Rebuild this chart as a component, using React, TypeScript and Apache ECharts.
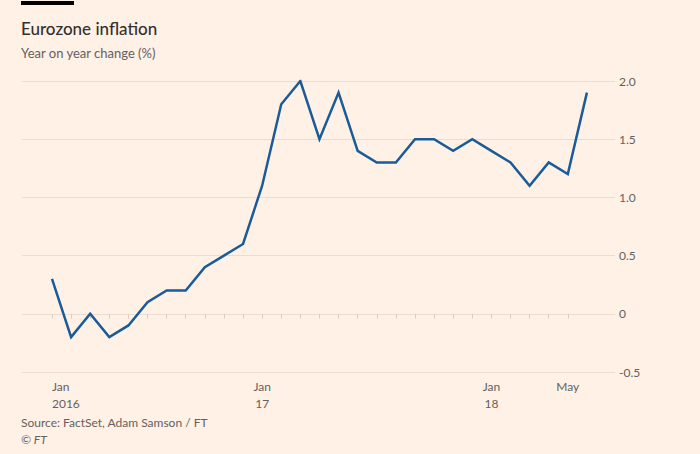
import React, { useEffect, useRef } from 'react';
import * as echarts from 'echarts';

// Eurozone HICP, year on year change (%), monthly
const months = [
  'Jan 2016', 'Feb 2016', 'Mar 2016', 'Apr 2016', 'May 2016', 'Jun 2016', 'Jul 2016', 'Aug 2016',
  'Sep 2016', 'Oct 2016', 'Nov 2016', 'Dec 2016', 'Jan 2017', 'Feb 2017', 'Mar 2017', 'Apr 2017',
  'May 2017', 'Jun 2017', 'Jul 2017', 'Aug 2017', 'Sep 2017', 'Oct 2017', 'Nov 2017', 'Dec 2017',
  'Jan 2018', 'Feb 2018', 'Mar 2018', 'Apr 2018', 'May 2018',
];
const inflation = [
  0.3, -0.2, 0.0, -0.2, -0.1, 0.1, 0.2, 0.2, 0.4, 0.5, 0.6, 1.1,
  1.8, 2.0, 1.5, 1.9, 1.4, 1.3, 1.3, 1.5, 1.5, 1.4, 1.5, 1.4,
  1.3, 1.1, 1.3, 1.2, 1.9,
];
const xTickPositions = [
  0, 1, 2, 3, 4, 5, 6, 7, 8, 9, 10, 11, 12, 13, 14, 15, 16, 17, 18, 19, 20, 21, 22, 23, 24, 25, 26, 27,
];
const xLabelPositions = [0, 11, 23, 27];
const xLabelTexts = ['Jan\n2016', 'Jan\n17', 'Jan\n18', 'May'];
const yMin = -0.5;
const yMax = 2.0;
const yStep = 0.5;

const FONT = 'Lato, "Noto Sans", sans-serif';
const GREY = '#66605c';
const GRID = '#e9ddd2';
const TICK = '#dcd0c5';

export default function App() {
  const ref = useRef<HTMLDivElement>(null);

  useEffect(() => {
    document.body.style.margin = '0';
    const chart = echarts.init(ref.current!, null, { renderer: 'svg' });
    const option: any = {
      animation: false,
      backgroundColor: '#fff1e5',
      textStyle: { fontFamily: FONT },
      grid: { left: 22, right: 85, top: 81, bottom: 82 },
      xAxis: {
        type: 'value',
        min: -1.57,
        max: 29.47,
        splitLine: { show: false },
        axisLine: { show: true, lineStyle: { color: GRID, width: 1 } },
        axisTick: {
          show: true,
          customValues: xTickPositions,
          length: 5,
          lineStyle: { color: TICK, width: 1 },
        },
        axisLabel: {
          customValues: xLabelPositions,
          alignMinLabel: 'left',
          formatter: (v: number) => {
            const i = xLabelPositions.indexOf(Math.round(v));
            return i >= 0 ? xLabelTexts[i] : '';
          },
          color: GREY,
          fontSize: 12,
          fontFamily: FONT,
          lineHeight: 17,
          margin: 6,
        },
      },
      yAxis: {
        type: 'value',
        position: 'right',
        min: yMin,
        max: yMax,
        interval: yStep,
        axisLine: { show: false },
        axisTick: { show: false },
        splitLine: { show: true, lineStyle: { color: GRID, width: 1 } },
        axisLabel: {
          color: GREY,
          fontSize: 12,
          fontFamily: FONT,
          margin: 4,
          formatter: (v: number) => (v === 0 ? '0' : v.toFixed(1)),
        },
      },
      series: [
        {
          type: 'line',
          name: 'Eurozone inflation',
          data: inflation.map((v, i) => [i, v, months[i]]),
          showSymbol: false,
          symbol: 'none',
          lineStyle: { color: '#1a5b99', width: 2.5, join: 'miter' },
        },
      ],
      graphic: [
        { type: 'rect', shape: { x: 21, y: 1, width: 53, height: 4 }, style: { fill: '#000000' } },
        {
          type: 'text',
          x: 21,
          y: 20,
          style: { text: 'Eurozone inflation', fill: '#33302e', fontSize: 17, fontFamily: FONT, fontWeight: 500 },
        },
        {
          type: 'text',
          x: 21,
          y: 46,
          style: { text: 'Year on year change (%)', fill: GREY, fontSize: 13, fontFamily: FONT },
        },
        {
          type: 'text',
          x: 21,
          y: 416,
          style: { text: 'Source: FactSet, Adam Samson / FT', fill: GREY, fontSize: 12, fontFamily: FONT },
        },
        {
          type: 'text',
          x: 21,
          y: 433,
          style: { text: '© FT', fill: GREY, fontSize: 12, fontFamily: FONT, fontStyle: 'italic' },
        },
      ],
    };
    chart.setOption(option);
    return () => chart.dispose();
  }, []);

  return <div ref={ref} style={{ position: 'absolute', left: 0, top: 0, width: 700, height: 454 }} />;
}
